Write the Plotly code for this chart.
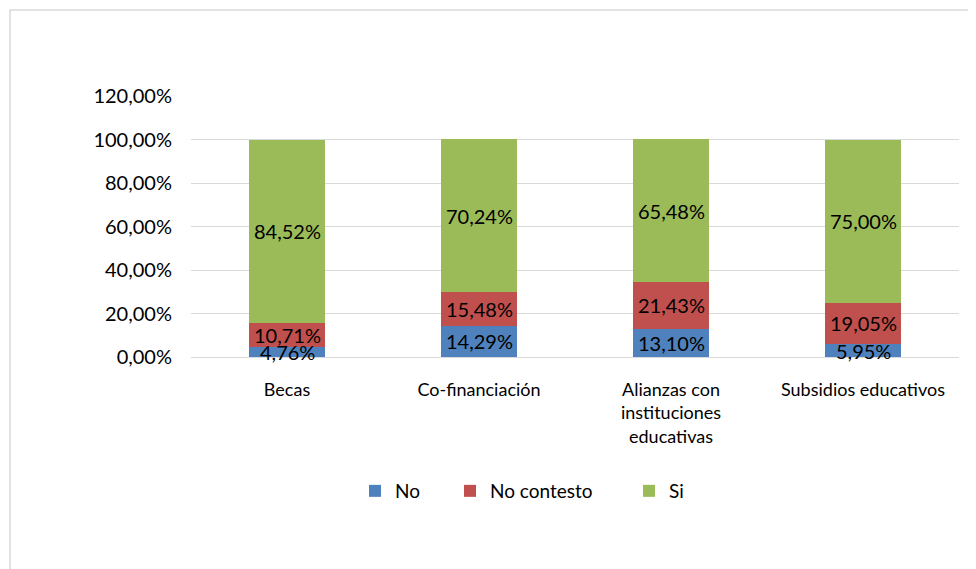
import plotly.graph_objects as go

categories = ["Becas", "Co-financiación", "Alianzas con<br>instituciones<br>educativas", "Subsidios educativos"]
no_vals = [4.76, 14.29, 13.10, 5.95]
no_contesto_vals = [10.71, 15.48, 21.43, 19.05]
si_vals = [84.52, 70.24, 65.48, 75.00]
series_names = ["No", "No contesto", "Si"]
colors = ["#4F81BD", "#C0504D", "#9BBB59"]
y_ticks = [0, 20, 40, 60, 80, 100, 120]

FONT = "Lato, Open Sans, sans-serif"

# plot area in page pixels (page has an 8px body margin)
L, R_EDGE, TOP, BOT = 191, 959, 96, 357
W, H = R_EDGE - L, BOT - TOP
def px(p):
    return (p - L) / W
def py(p):
    return (BOT - p) / H

fig = go.Figure()
series = [no_vals, no_contesto_vals, si_vals]
legend_ids = ["legend", "legend2", "legend3"]
for name, vals, col, lg in zip(series_names, series, colors, legend_ids):
    fig.add_trace(go.Bar(x=categories, y=vals, name=name, marker_color=col,
                         marker_line_width=0, width=0.4, legend=lg))

annotations = []
base = [0.0] * len(categories)
for vals in series:
    for i, v in enumerate(vals):
        annotations.append(dict(
            x=categories[i], y=base[i] + v / 2, xref="x", yref="y",
            text=f"{v:.2f}%".replace(".", ","), showarrow=False,
            font=dict(family=FONT, size=20, color="#000000")))
        base[i] += v

legend_left = [355, 450, 629]
legend_common = dict(orientation="h", yanchor="middle", xanchor="left",
                     font=dict(family=FONT, size=19), itemwidth=30,
                     bgcolor="rgba(0,0,0,0)")
legends = {}
for lg, xl in zip(legend_ids, legend_left):
    legends[lg] = dict(legend_common, x=px(xl), y=py(491))

fig.update_layout(
    barmode="stack",
    width=976, height=569,
    margin=dict(l=L - 8, r=976 - (R_EDGE - 8), t=TOP - 8, b=569 - (BOT - 8)),
    paper_bgcolor="white", plot_bgcolor="white",
    separators=",.",
    font=dict(family=FONT, size=18, color="#000000"),
    annotations=annotations,
    showlegend=True,
    **legends,
    xaxis=dict(showgrid=False, showline=False, ticks="", tickfont=dict(family=FONT, size=18),
               ticklabelstandoff=20),
    yaxis=dict(range=[0, 120], tickvals=y_ticks,
               ticktext=[f"{t:.2f}%".replace(".", ",") for t in y_ticks],
               showgrid=True, gridcolor="#D9D9D9", gridwidth=1.2, zeroline=True,
               zerolinecolor="#D9D9D9", zerolinewidth=1.2, showline=False, ticks="",
               ticklabelstandoff=18, tickfont=dict(family=FONT, size=20)),
    shapes=[dict(type="rect", xref="paper", yref="paper", x0=px(10), x1=px(1100),
                 y0=py(700), y1=py(10),
                 line=dict(color="#D9D9D9", width=1.5), fillcolor="rgba(0,0,0,0)", layer="below")],
)

fig.write_html("out.html")
